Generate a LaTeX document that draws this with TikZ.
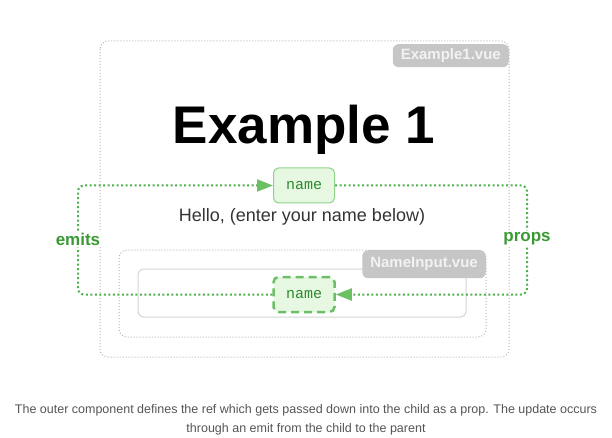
\documentclass[tikz,border=0pt]{standalone}
\usepackage{fontspec}
\setmainfont{Liberation Sans}
\setmonofont{Liberation Mono}
\usetikzlibrary{arrows.meta}

\definecolor{boxgrey}{HTML}{B4B4B4}
\definecolor{taggrey}{HTML}{C6C6C6}
\definecolor{tagtext}{HTML}{F2F2F2}
\definecolor{namefill}{HTML}{E6F7E2}
\definecolor{nameline}{HTML}{8FD38A}
\definecolor{namedash}{HTML}{6CBF66}
\definecolor{nametext}{HTML}{2F8A2F}
\definecolor{flowgreen}{HTML}{4FAF4A}
\definecolor{arrowgreen}{HTML}{6CC064}
\definecolor{labelgreen}{HTML}{3A9A34}
\definecolor{inputline}{HTML}{D4D4D4}
\definecolor{captiongrey}{HTML}{555555}

\begin{document}
\begin{tikzpicture}[x=1pt, y=-1pt,
    filebox/.style={draw=boxgrey, line width=1pt, dash pattern=on 1pt off 2pt, rounded corners=8pt},
    filetag/.style={fill=taggrey, text=tagtext, font=\fontsize{15}{17}\selectfont\bfseries, rounded corners=6pt, inner xsep=8pt, minimum height=23pt},
    namebox/.style={fill=namefill, text=nametext, font=\fontsize{15}{17}\selectfont\ttfamily, minimum width=61pt, minimum height=35pt, rounded corners=5pt},
    flow/.style={draw=flowgreen, line width=2pt, dash pattern=on 2pt off 2.5pt, rounded corners=6pt},
    flowtip/.style={-{Triangle[length=16pt, width=12pt, color=arrowgreen]}},
    sidelabel/.style={fill=white, text=labelgreen, font=\fontsize{17}{19}\selectfont\bfseries, inner sep=2pt},
]
    \useasboundingbox (0,0) rectangle (612,438);

    % Example1.vue
    \draw[filebox] (100,41) rectangle (509,357);
    \node[filetag, anchor=north east] (outertag) at (509,44) {Example1.vue};
    \node[font=\fontsize{53}{58}\selectfont\bfseries] (title) at (304,130) {Example 1};
    \node[font=\fontsize{18}{20}\selectfont, text=black!80] (hello) at (302,217) {Hello, (enter your name below)};

    % NameInput.vue
    \draw[filebox] (119,250) rectangle (486,337);
    \draw[draw=inputline, line width=1pt, rounded corners=6pt] (138,269) rectangle (466,317);
    \node[filetag, anchor=north east, minimum height=28pt] (innertag) at (486,250) {NameInput.vue};

    % the ref in both components
    \node[namebox, draw=nameline, line width=1pt] (parentname) at (304,185.5) {name};
    \node[namebox, draw=namedash, line width=2.5pt, dash pattern=on 8pt off 5pt] (childname) at (304,294.5) {name};

    % emits and props
    \node[sidelabel] (emits) at (78,239) {emits};
    \node[sidelabel] (props) at (527,239) {props};
    \draw[flow] (childname.west) -| (emits.south);
    \draw[flow, flowtip] (emits.north) |- (parentname.west);
    \draw[flow] (parentname.east) -| (props.north);
    \draw[flow, flowtip] (props.south) |- (childname.east);

    % caption
    \node[align=center, text=captiongrey, font=\fontsize{12.5}{19}\selectfont] (caption) at (306,420)
        {The outer component defines the ref which gets passed down into the child as a prop. The update occurs\\through an emit from the child to the parent};
\end{tikzpicture}
\end{document}
